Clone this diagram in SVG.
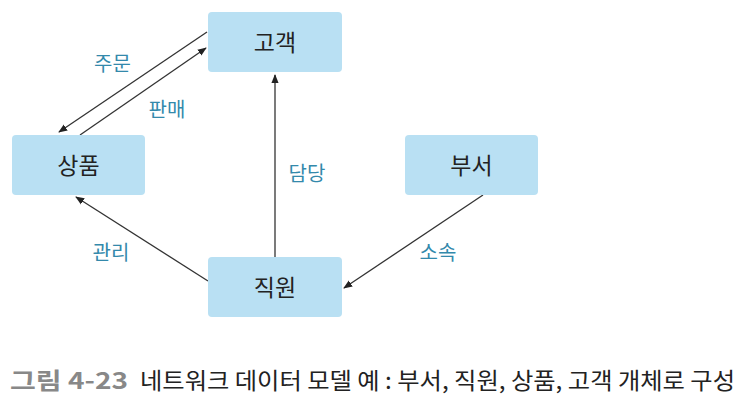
<svg xmlns="http://www.w3.org/2000/svg" width="744" height="403" viewBox="0 0 744 403">
<defs>
<marker id="ah" viewBox="0 0 10 10" refX="9" refY="5" markerWidth="9" markerHeight="9" markerUnits="userSpaceOnUse" orient="auto">
<path d="M0,1 L10,5 L0,9 z" fill="#222"/>
</marker>
<style>
.box{fill:#b9e0f3;}
.nt{font-family:"Noto Sans CJK KR","Noto Sans",sans-serif;font-size:23px;fill:#222;text-anchor:middle;}
.lb{font-family:"Noto Sans CJK KR","Noto Sans",sans-serif;font-size:20px;fill:#3389ab;text-anchor:middle;}
.ln{stroke:#333;stroke-width:1.3;fill:none;marker-end:url(#ah);}
.cap{font-family:"Noto Sans CJK KR",sans-serif;font-size:23px;}
</style>
</defs>
<rect width="744" height="403" fill="#fff"/>
<g id="connectors">
<line class="ln" x1="207" y1="32" x2="59" y2="132"/>
<line class="ln" x1="80" y1="135" x2="206" y2="48"/>
<line class="ln" x1="275" y1="257" x2="275" y2="75"/>
<line class="ln" x1="208" y1="281" x2="76" y2="197"/>
<line class="ln" x1="483" y1="195" x2="344" y2="288"/>
</g>
<g id="node-customer"><rect class="box" x="208" y="12" width="134" height="60" rx="4"/><text class="nt" x="275" y="51">고객</text></g>
<g id="node-product"><rect class="box" x="12" y="135" width="133" height="60" rx="4"/><text class="nt" x="78.5" y="174">상품</text></g>
<g id="node-dept"><rect class="box" x="405" y="135" width="133" height="60" rx="4"/><text class="nt" x="471.5" y="174">부서</text></g>
<g id="node-employee"><rect class="box" x="208" y="257" width="134" height="60" rx="4"/><text class="nt" x="275" y="296">직원</text></g>
<g id="labels">
<text class="lb" x="112.5" y="71">주문</text>
<text class="lb" x="167" y="117">판매</text>
<text class="lb" x="307" y="181">담당</text>
<text class="lb" x="111" y="260">관리</text>
<text class="lb" x="438" y="260">소속</text>
</g>
<g id="caption">
<text class="cap" x="10" y="389" fill="#888" font-weight="bold" textLength="118" lengthAdjust="spacingAndGlyphs">그림 4-23</text>
<text class="cap" x="140" y="389" fill="#222" textLength="595" lengthAdjust="spacingAndGlyphs">네트워크 데이터 모델 예 : 부서, 직원, 상품, 고객 개체로 구성</text>
</g>
</svg>
